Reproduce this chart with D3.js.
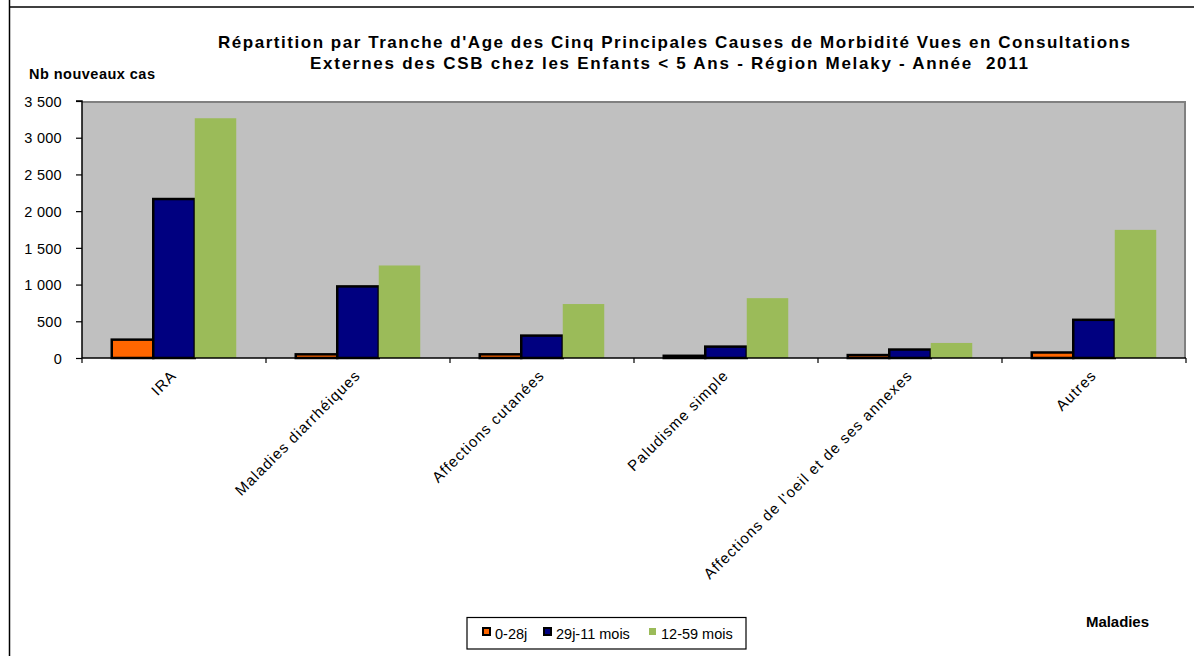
<!DOCTYPE html>
<html><head><meta charset="utf-8">
<script src="https://cdn.jsdelivr.net/npm/d3@7"></script>
<style>
html,body{margin:0;padding:0;background:#fff;}
svg{display:block;font-family:Arial,"Liberation Sans",sans-serif;}
text{white-space:pre;}
</style></head>
<body><svg id="c" width="1194" height="656"></svg>
<script>
const categories = ["IRA","Maladies diarrhéiques","Affections cutanées","Paludisme simple","Affections de l'oeil et de ses annexes","Autres"];
const seriesNames = ["0-28j","29j-11 mois","12-59 mois"];
const s0_28j = [250, 50, 50, 30, 40, 75];
const s29j_11m = [2165, 975, 305, 155, 115, 520];
const s12_59m = [3265, 1260, 735, 815, 205, 1745];
const yTicks = [0,500,1000,1500,2000,2500,3000,3500];
const colors = ["#FF6600","#000080","#9BBB59"];
const titleLines = ["Répartition par Tranche d'Age des Cinq Principales Causes de Morbidité Vues en Consultations","Externes des CSB chez les Enfants < 5 Ans - Région Melaky - Année  2011"];

const svg = d3.select("#c");
const L=82, R=1186, T=101, B=358;
const series=[s0_28j,s29j_11m,s12_59m];

// outer frame
svg.append("line").attr("x1",9.5).attr("x2",9.5).attr("y1",0).attr("y2",656).attr("stroke","#000").attr("stroke-width",1.5);
svg.append("line").attr("x1",9).attr("x2",1194).attr("y1",7).attr("y2",7).attr("stroke","#000").attr("stroke-width",1.5);

const x = d3.scaleBand().domain(categories).range([L,R]);
const y = d3.scaleLinear().domain([0,3500]).range([B,T]);

// plot area
svg.append("rect").attr("x",L).attr("y",T).attr("width",R-L).attr("height",B-T).attr("fill","#C0C0C0");
svg.append("path").attr("d",`M${L},${T+1}H${R-1}V${B}`).attr("fill","none").attr("stroke","#808080").attr("stroke-width",2);

// bars
const gw = 124.5, bw = gw/3;
categories.forEach((c,i)=>{
  const cx = x(c)+x.bandwidth()/2;
  series.forEach((s,j)=>{
    const bx = cx - gw/2 + j*bw;
    const r = svg.append("rect").attr("x",bx).attr("y",y(s[i])).attr("width",bw).attr("height",B-y(s[i])).attr("fill",colors[j]);
    if(j<2) r.attr("stroke","#000").attr("stroke-width",2.5);
  });
});

// axes
const ya = svg.append("g").attr("transform",`translate(${L},0)`).call(d3.axisLeft(y).tickValues(yTicks).tickSize(6).tickPadding(14).tickFormat(d=>d3.format(",")(d).replace(/,/g," ")));
ya.select(".domain").attr("stroke","#000").attr("stroke-width",1.5).attr("d",`M-6,${T}H0V${B}`);
ya.selectAll(".tick line").attr("stroke","#000").attr("stroke-width",1.2);
ya.selectAll(".tick text").attr("font-size",14.5).attr("letter-spacing",0.3).attr("fill","#000").attr("font-family","Arial,'Liberation Sans',sans-serif").attr("dy","0.36em");

svg.append("line").attr("x1",L).attr("x2",R).attr("y1",B).attr("y2",B).attr("stroke","#000").attr("stroke-width",1.5);
const bounds = categories.map(c=>x(c)).concat([R]);
svg.selectAll(".xt").data(bounds).join("line").attr("x1",d=>d).attr("x2",d=>d).attr("y1",B).attr("y2",B+5).attr("stroke","#000").attr("stroke-width",1.2);

// x labels
categories.forEach(c=>{
  const cx = x(c)+x.bandwidth()/2;
  svg.append("text").attr("transform",`translate(${cx-4},${369}) rotate(-45)`).attr("text-anchor","end").attr("dy","0.7em")
    .attr("font-size",15).attr("letter-spacing",1.1).attr("fill","#000").text(c);
});

// title
const tl = [912, 718];
svg.selectAll(".tt").data(titleLines).join("text").attr("x",(d,i)=>i===0?218:310).attr("y",(d,i)=>48+i*21)
  .attr("textLength",(d,i)=>tl[i]).attr("lengthAdjust","spacing")
  .attr("font-weight","bold").attr("font-size",17).attr("fill","#000").text(d=>d);
svg.append("text").attr("x",29).attr("y",79).attr("font-weight","bold").attr("font-size",14.5).attr("textLength",126).attr("lengthAdjust","spacing").text("Nb nouveaux cas");
svg.append("text").attr("x",1086).attr("y",627).attr("font-weight","bold").attr("font-size",15).attr("textLength",63).attr("lengthAdjust","spacing").text("Maladies");

// legend
svg.append("rect").attr("x",467).attr("y",617.5).attr("width",279).attr("height",31.5).attr("fill","#fff").attr("stroke","#000").attr("stroke-width",1.2);
const lx=[483,544,649];
seriesNames.forEach((n,j)=>{
  svg.append("rect").attr("x",lx[j]).attr("y",628).attr("width",7).attr("height",7).attr("fill",colors[j])
    .attr("stroke",j<2?"#000":"none").attr("stroke-width",2);
  svg.append("text").attr("x",lx[j]+12).attr("y",638.5).attr("font-size",14.5).text(n);
});
</script></body></html>
